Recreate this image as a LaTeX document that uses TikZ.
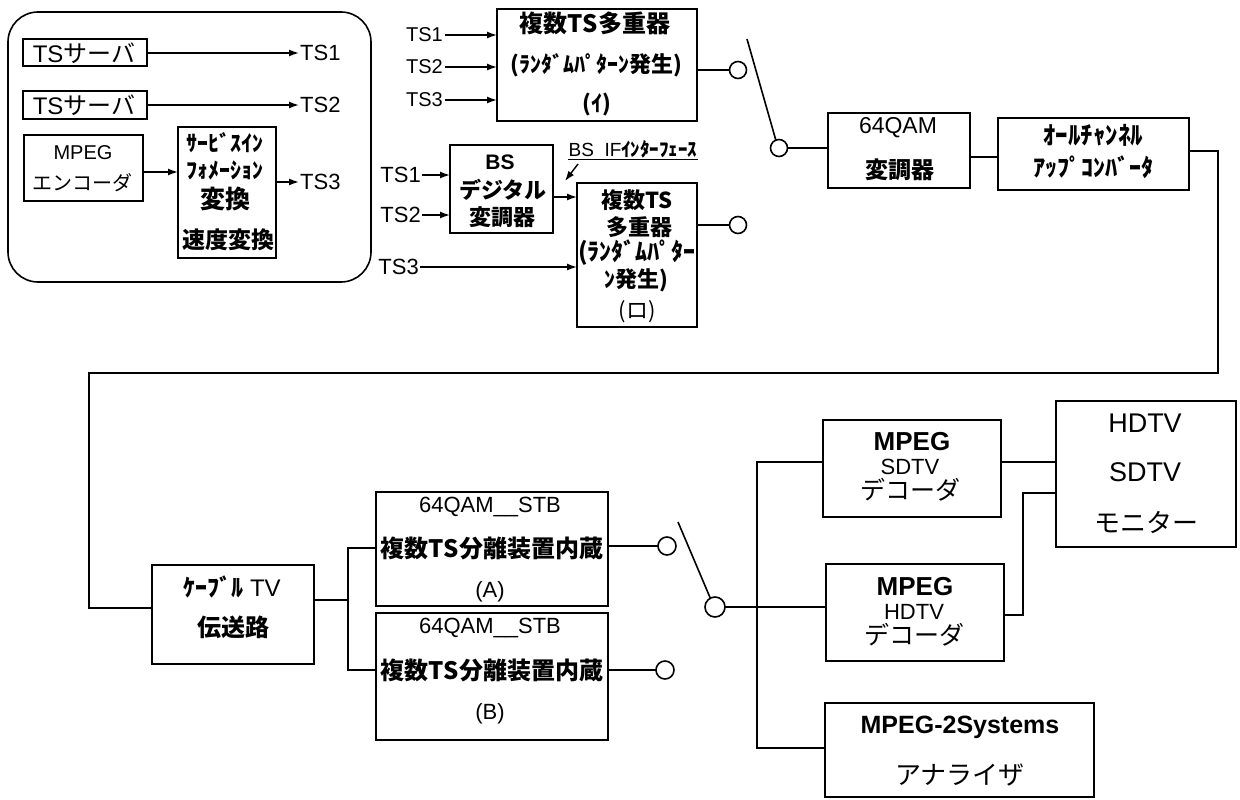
\documentclass[tikz,border=0pt]{standalone}
\usepackage{fontspec}
\setmainfont{Liberation Sans}
\newfontfamily\jp{Noto Sans CJK JP}
\usetikzlibrary{arrows.meta}
\begin{document}
\begin{tikzpicture}[x=1pt,y=-1pt,
  box/.style={draw, line width=1.6pt, inner sep=0pt, outer sep=0pt},
  ln/.style={line width=1.6pt},
  arr/.style={line width=1.4pt, -{Latex[length=10pt,width=7pt]}},
  lbl/.style={inner sep=0pt, font=\fontsize{#1}{#1}\selectfont},
  contact/.style={circle, draw, line width=1.6pt, inner sep=0pt, outer sep=0pt, minimum size=#1}]
\useasboundingbox (0,0) rectangle (1240,800);

% ---------- left panel ----------
\node[box, rounded corners=30pt, minimum width=363pt, minimum height=270pt] (panel) at (189.5,147) {};
\node[box, minimum width=124pt, minimum height=27pt] (srv1) at (85,52.5) {};
\node[box, minimum width=124pt, minimum height=28pt] (srv2) at (85,105) {};
\node[box, minimum width=119pt, minimum height=66pt] (enc) at (83.5,168) {};
\node[box, minimum width=98pt, minimum height=131pt] (svc) at (227,192.5) {};
\node[lbl=24] (srv1t) at (84,53) {TS{\jp サーバ}};
\node[lbl=24] (srv2t) at (84,105) {TS{\jp サーバ}};
\node[lbl=20] (enct1) at (83,153) {MPEG};
\node[lbl=20] (enct2) at (82,183) {\jp エンコーダ};
\node[lbl=22] (svct1) at (225,143) {\jp\bfseries ｻｰﾋﾞｽｲﾝ};
\node[lbl=22] (svct2) at (225,170) {\jp\bfseries ﾌｫﾒｰｼｮﾝ};
\node[lbl=25] (svct3) at (225,199) {\jp\bfseries 変換};
\node[lbl=23] (svct4) at (228,240) {\jp\bfseries 速度変換};
\node[lbl=22, anchor=west] (lts1) at (300,53) {TS1};
\node[lbl=22, anchor=west] (lts2) at (300,105) {TS2};
\node[lbl=22, anchor=west] (lts3) at (300,182) {TS3};
\draw[arr, shorten >=1pt] (srv1.east |- lts1.west) -- (lts1.west);
\draw[arr, shorten >=1pt] (srv2.east |- lts2.west) -- (lts2.west);
\draw[arr] (enc.east |- 0,172) -- (svc.west |- 0,172);
\draw[arr, shorten >=1pt] (svc.east |- lts3.west) -- (lts3.west);

% ---------- multiplexer (i) ----------
\node[box, minimum width=200pt, minimum height=112pt] (muxI) at (597,65) {};
\node[lbl=24] (muxIt1) at (595,23) {\jp\bfseries 複数TS多重器};
\node[lbl=22] (muxIt2) at (596,65) {\jp\bfseries (ﾗﾝﾀﾞﾑﾊﾟﾀｰﾝ発生)};
\node[lbl=22] (muxIt3) at (597,105) {\jp\bfseries (ｲ)};
\node[lbl=20, anchor=east] (lm1) at (443,35) {TS1};
\node[lbl=20, anchor=east] (lm2) at (443,67) {TS2};
\node[lbl=20, anchor=east] (lm3) at (443,100) {TS3};
\draw[arr, shorten <=2pt] (lm1.east) -- (muxI.west |- lm1.east);
\draw[arr, shorten <=2pt] (lm2.east) -- (muxI.west |- lm2.east);
\draw[arr, shorten <=2pt] (lm3.east) -- (muxI.west |- lm3.east);
\node[contact=17pt] (c1) at (738,70) {};
\draw[ln] (muxI.east |- c1) -- (c1.west);

% ---------- BS modulator + multiplexer (ro) ----------
\node[box, minimum width=103pt, minimum height=88pt] (bsmod) at (501.5,189) {};
\node[lbl=21] (bst1) at (500,162) {\bfseries BS};
\node[lbl=22] (bst2) at (503,190) {\jp\bfseries デジタル};
\node[lbl=22] (bst3) at (502,217) {\jp\bfseries 変調器};
\node[box, minimum width=120pt, minimum height=144pt] (muxRo) at (637,255) {};
\node[lbl=22] (rot1) at (637,200) {\jp\bfseries 複数TS};
\node[lbl=22] (rot2) at (639,227) {\jp\bfseries 多重器};
\node[lbl=24] (rot3) at (637,253) {\jp\bfseries (ﾗﾝﾀﾞﾑﾊﾟﾀｰ};
\node[lbl=22] (rot4) at (636,280) {\jp\bfseries ﾝ発生)};
\node[lbl=22] (rot5) at (637,312) {\jp (ロ)};
\node[lbl=22, anchor=east] (lb1) at (421,175) {TS1};
\node[lbl=22, anchor=east] (lb2) at (421,215) {TS2};
\node[lbl=22, anchor=east] (lb3) at (419,267) {TS3};
\draw[arr, shorten <=1pt] (lb1.east) -- (bsmod.west |- lb1.east);
\draw[arr, shorten <=1pt] (lb2.east) -- (bsmod.west |- lb2.east);
\draw[arr, shorten <=1pt] (lb3.east) -- (muxRo.west |- lb3.east);
\draw[arr] (bsmod.east |- 0,197) -- (muxRo.west |- 0,197);
\node[contact=17pt] (c2) at (738,225) {};
\draw[ln] (muxRo.east |- c2) -- (c2.west);
\node[lbl=19] (bsif) at (633,149) {BS\ \ IF{\jp\bfseries ｲﾝﾀｰﾌｪｰｽ}};
\draw[line width=1.4pt] ([yshift=-1.5pt]bsif.south west) -- ([yshift=-1.5pt]bsif.south east);
\coordinate (bsa) at (578,164);
\coordinate (bsb) at (565,181);
\draw[arr] (bsa) -- (bsb);

% ---------- switch 1 ----------
\node[contact=17pt] (c3) at (779,148) {};
\coordinate (lev1) at (747,39);
\draw[ln] (lev1) -- (c3.112);

% ---------- 64QAM modulator, up converter ----------
\node[box, minimum width=142pt, minimum height=75pt] (qam) at (899,150.5) {};
\node[lbl=23] (qamt1) at (898,128) {64QAM};
\node[lbl=23] (qamt2) at (900,170) {\jp\bfseries 変調器};
\node[box, minimum width=191pt, minimum height=72pt] (upc) at (1093.5,154) {};
\node[lbl=25] (upct1) at (1093,135) {\jp\bfseries ｵｰﾙﾁｬﾝﾈﾙ};
\node[lbl=24] (upct2) at (1093,167) {\jp\bfseries ｱｯﾌﾟｺﾝﾊﾞｰﾀ};
\draw[ln] (c3.east) -- (qam.west |- c3);
\draw[ln] (qam.east |- 0,157) -- (upc.west |- 0,157);

% ---------- cable TV ----------
\node[box, minimum width=162pt, minimum height=99pt] (catv) at (233,614.5) {};
\node[lbl=24] (catvt1) at (232,587) {{\jp\bfseries ｹｰﾌﾞﾙ} TV};
\node[lbl=24] (catvt2) at (233,627) {\jp\bfseries 伝送路};
\draw[ln] (upc.east |- 0,151) -- (1218,151) -- (1218,373) -- (89,373) -- (89,608) -- (catv.west |- 0,608);

% ---------- STBs ----------
\node[box, minimum width=232pt, minimum height=114pt] (stbA) at (492,549) {};
\node[lbl=22] (at1) at (490,507) {64QAM\_\_STB};
\node[lbl=24] (at2) at (492,548) {\jp\bfseries 複数TS分離装置内蔵};
\node[lbl=22] (at3) at (490,592) {(A)};
\node[box, minimum width=232pt, minimum height=127pt] (stbB) at (492,676.5) {};
\node[lbl=22] (bt1) at (490,628) {64QAM\_\_STB};
\node[lbl=24] (bt2) at (492,670) {\jp\bfseries 複数TS分離装置内蔵};
\node[lbl=22] (bt3) at (490,714) {(B)};
\draw[ln] (catv.east |- 0,600) -- (348,600);
\draw[ln] (stbA.west |- 0,548) -| (348,670) -- (stbB.west |- 0,670);
\node[contact=18pt] (c4) at (667,546) {};
\node[contact=18pt] (c5) at (665,670) {};
\draw[ln] (stbA.east |- c4) -- (c4.west);
\draw[ln] (stbB.east |- c5) -- (c5.west);

% ---------- switch 2 ----------
\node[contact=20pt] (c6) at (715,607) {};
\coordinate (lev2) at (678,522);
\draw[ln] (lev2) -- (c6.118);

% ---------- decoders, monitor, analyzer ----------
\node[box, minimum width=178pt, minimum height=97pt] (dec1) at (912,468.5) {};
\node[lbl=26] (d1t1) at (912,442) {\bfseries MPEG};
\node[lbl=22] (d1t2) at (910,467) {SDTV};
\node[lbl=25] (d1t3) at (910,490) {\jp デコーダ};
\node[box, minimum width=178pt, minimum height=97pt] (dec2) at (915,612.5) {};
\node[lbl=26] (d2t1) at (915,587) {\bfseries MPEG};
\node[lbl=22] (d2t2) at (914,612) {HDTV};
\node[lbl=25] (d2t3) at (914,635) {\jp デコーダ};
\node[box, minimum width=269pt, minimum height=94pt] (ana) at (959.5,750) {};
\node[lbl=25] (anat1) at (960,727) {\bfseries MPEG-2Systems};
\node[lbl=26] (anat2) at (960,775) {\jp アナライザ};
\node[box, minimum width=180pt, minimum height=146pt] (mon) at (1146,474) {};
\node[lbl=27] (mont1) at (1145,423) {HDTV};
\node[lbl=27] (mont2) at (1145,472) {SDTV};
\node[lbl=26] (mont3) at (1146,522) {\jp モニター};

\draw[ln] (c6.east) -- (dec2.west |- c6);
\draw[ln] (dec1.west |- 0,462) -| (757,748) -- (ana.west |- 0,748);
\draw[ln] (dec1.east |- 0,462) -- (mon.west |- 0,462);
\draw[ln] (dec2.east |- 0,615) -| (1023,493) -- (mon.west |- 0,493);
\end{tikzpicture}
\end{document}
